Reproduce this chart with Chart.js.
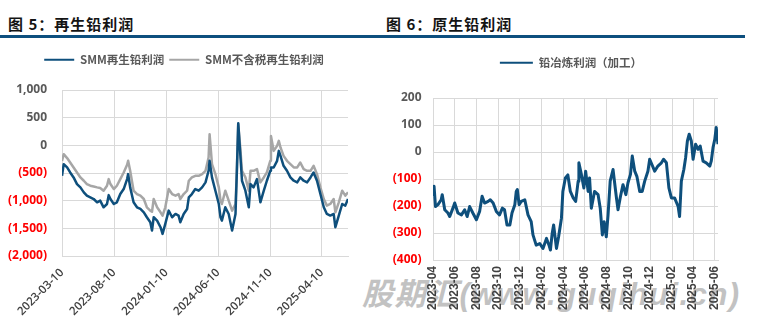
<!DOCTYPE html>
<html>
<head>
<meta charset="utf-8">
<title>再生铅利润 / 原生铅利润</title>
<script src="https://cdn.jsdelivr.net/npm/chart.js@4.4.1/dist/chart.umd.min.js"></script>
<style>
  body { margin: 0; background: #fff; }
  #page { position: relative; width: 763px; height: 327px; overflow: hidden; font-family: "Noto Sans CJK SC", sans-serif; }
  .fig-title { position: absolute; top: 14px; font-size: 15px; font-weight: 700; color: #141414; letter-spacing: 1px; line-height: 20px; white-space: nowrap; }
  .rule { position: absolute; top: 35px; left: 0; width: 745px; height: 3px; background: #0d4f7e; }
  .watermark { position: absolute; left: 362px; top: 280px; font: italic 700 31px "Liberation Sans", "Noto Sans CJK SC", sans-serif; line-height: 30px; color: #c2c2c2; letter-spacing: 1.5px; white-space: nowrap; z-index: 0; }
  .panel { position: absolute; top: 40px; height: 287px; z-index: 1; }
</style>
</head>
<body>
<div id="page">
  <div class="fig-title" style="left: 8px;">图 5：再生铅利润</div>
  <div class="fig-title" style="left: 386px;">图 6：原生铅利润</div>
  <div class="rule"></div>
  <div class="watermark">股期汇(www.guqihui.cn)</div>
  <div class="panel" style="left: 0; width: 380px;"><canvas id="recycled"></canvas></div>
  <div class="panel" style="left: 380px; width: 383px;"><canvas id="primary"></canvas></div>
</div>
<script>
// ---- Recycled lead profit (yuan/t), x = days since 2023-03-10
const recycledStart = '2023-03-10';
const recycledDays = [
  0, 5, 15, 24, 34, 44, 54, 64, 73, 83, 93, 103, 112, 122, 132, 137, 142, 152, 161, 171,
  181, 191, 194, 200, 210, 220, 230, 240, 249, 259, 264, 269, 279, 289, 295, 303, 313, 323, 333, 342,
  347, 357, 367, 372, 381, 391, 401, 411, 421, 430, 433, 440, 450, 460, 465, 469, 479, 489, 499, 509,
  513, 517, 523, 528, 538, 548, 553, 562, 572, 582, 592, 601, 611, 613, 621, 631, 636, 641, 650, 660,
  670, 680, 690, 699, 709, 719, 729, 738, 748, 758, 768, 777, 787, 797, 802, 812, 822, 831, 839
];
const smmProfit = [
  -550, -340, -400, -490, -580, -700, -760, -850, -910, -940, -970, -1030, -1000, -1120, -1060, -900, -970, -1060, -1030, -880,
  -790, -610, -520, -760, -1030, -1120, -1150, -1210, -1300, -1390, -1540, -1300, -1360, -1480, -1600, -1420, -1180, -1300, -1240, -1270,
  -1390, -1240, -1150, -940, -880, -790, -820, -760, -670, -460, -280, -580, -820, -1060, -1300, -1360, -1120, -1240, -1540, -1240,
  -460, 400, -160, -640, -820, -1120, -700, -760, -610, -1030, -820, -640, -460, -400, -400, -280, -100, -190, -370, -460,
  -580, -640, -670, -580, -640, -670, -580, -490, -640, -880, -1120, -1240, -1270, -1240, -1480, -1270, -1060, -1090, -970
];
const smmProfitExTax = [
  -280, -160, -230, -310, -400, -490, -580, -640, -700, -730, -745, -760, -770, -820, -730, -610, -700, -790, -730, -610,
  -490, -350, -280, -460, -820, -880, -910, -970, -1120, -1180, -1200, -970, -1120, -1210, -1270, -1120, -790, -880, -910, -880,
  -970, -880, -820, -640, -580, -550, -550, -520, -460, -220, 200, -340, -520, -760, -1000, -1060, -820, -1000, -1180, -1060,
  -460, 380, -40, -460, -580, -820, -460, -460, -430, -670, -580, -490, -280, 170, -100, -10, 80, -40, -190, -280,
  -340, -400, -400, -310, -430, -460, -460, -370, -520, -760, -970, -1090, -1060, -970, -1210, -1030, -820, -910, -850
];
const recycledTicks = ['2023-03-10', '2023-08-10', '2024-01-10', '2024-06-10', '2024-11-10', '2025-04-10'];
const recycledEnd = 839;

// ---- Primary lead smelting profit (processing), x = days since 2023-04-01
const primaryStart = '2023-04-01';
const primaryDays = [
  0, 3, 7, 14, 23, 26, 33, 42, 47, 56, 61, 70, 80, 89, 96, 103, 112, 122, 131, 138,
  145, 155, 161, 169, 178, 187, 195, 201, 208, 216, 222, 230, 234, 237, 242, 248, 258, 267, 276, 281,
  290, 300, 309, 319, 326, 330, 335, 339, 347, 353, 361, 365, 372, 379, 386, 394, 401, 408, 410, 417,
  424, 429, 436, 440, 445, 454, 464, 470, 476, 481, 487, 492, 498, 506, 515, 520, 527, 534, 542, 548,
  555, 560, 567, 573, 581, 588, 595, 604, 609, 617, 623, 632, 642, 648, 656, 663, 670, 679, 689, 693,
  698, 705, 710, 715, 720, 726, 731, 738, 745, 751, 759, 768, 778, 782, 787, 792, 796, 801
];
const smeltProfit = [
  -164, -127, -202, -195, -177, -158, -214, -226, -239, -208, -189, -226, -233, -214, -239, -202, -226, -251, -220, -164,
  -189, -183, -177, -189, -220, -233, -208, -214, -270, -270, -226, -195, -146, -139, -195, -183, -177, -233, -258, -307,
  -345, -339, -357, -320, -345, -363, -301, -270, -357, -314, -245, -146, -96, -85, -146, -170, -183, -108, -40, -83,
  -133, -71, -146, -96, -208, -146, -158, -208, -307, -258, -314, -233, -108, -65, -164, -214, -164, -121, -158, -114,
  -83, -15, -71, -90, -146, -146, -108, -71, -27, -52, -71, -52, -40, -27, -40, -133, -170, -170, -202, -239,
  -108, -65, -21, 41, 66, 41, -27, 29, 10, 22, -34, -40, -52, -34, 16, 47, 91, 29
];
const primaryTicks = ['2023-04', '2023-06', '2023-08', '2023-10', '2023-12', '2024-02', '2024-04',
  '2024-06', '2024-08', '2024-10', '2024-12', '2025-02', '2025-04', '2025-06'];
const primaryEnd = 801;

const BLUE = '#0e4f7c';
const GREY = '#a6a6a6';
const GRID = '#d9d9d9';

Chart.defaults.font.family = '"Open Sans", "Noto Sans CJK SC", sans-serif';
Chart.defaults.animation = false;

function dayOffset(start, date) {
  const [y0, m0, d0] = start.split('-').map(Number);
  const [y, m, d = 1] = date.split('-').map(Number);
  return Math.round((Date.UTC(y, m - 1, d) - Date.UTC(y0, m0 - 1, d0)) / 86400000);
}

function toPoints(days, values) {
  return days.map((x, i) => ({ x: x, y: values[i] }));
}

// (1,000) style for negatives
function formatProfit(v) {
  const s = Math.abs(v).toLocaleString('en-US');
  return v < 0 ? '(' + s + ')' : s;
}

// extra space under the legend, and a sideways nudge of the legend row
function legendPlacement(gap, shift) {
  return {
    id: 'legendPlacement',
    beforeInit(chart) {
      const fit = chart.legend.fit;
      chart.legend.fit = function () {
        fit.bind(chart.legend)();
        this.height += gap;
      };
    },
    afterLayout(chart) {
      chart.legend.left += shift;
      chart.legend.right += shift;
    }
  };
}

function lineLegendLabels(chart) {
  return Chart.defaults.plugins.legend.labels.generateLabels(chart).map(item => ({
    ...item, lineWidth: 0, fillStyle: item.strokeStyle
  }));
}

function makeChart(id, cfg) {
  return new Chart(document.getElementById(id), {
    type: 'line',
    data: { datasets: cfg.datasets },
    options: {
      responsive: true,
      maintainAspectRatio: false,
      layout: { padding: cfg.padding },
      elements: { point: { radius: 0 }, line: { tension: 0, borderJoinStyle: 'round' } },
      plugins: {
        tooltip: { enabled: false },
        legend: {
          position: 'top',
          labels: {
            boxWidth: cfg.boxWidth,
            boxHeight: 2,
            padding: 5,
            color: '#595959',
            font: { family: '"Noto Sans CJK SC", sans-serif', size: 11.5, weight: 'bold' },
            generateLabels: lineLegendLabels
          }
        }
      },
      scales: {
        x: {
          type: 'linear',
          min: 0,
          max: cfg.xMax,
          afterFit(scale) { scale.height = cfg.xHeight; },
          afterBuildTicks(scale) { scale.ticks = cfg.ticks.map(t => ({ value: dayOffset(cfg.start, t) })); },
          grid: { color: GRID, drawTicks: false },
          border: { color: GRID },
          ticks: {
            autoSkip: false,
            minRotation: cfg.rotation,
            maxRotation: cfg.rotation,
            padding: cfg.xPad,
            color: '#404040',
            font: cfg.xFont,
            callback: (v, i) => cfg.ticks[i]
          }
        },
        y: {
          min: cfg.yMin,
          max: cfg.yMax,
          afterFit(scale) { scale.width = cfg.yWidth; },
          grid: { color: GRID, drawTicks: false },
          border: { color: GRID },
          ticks: {
            stepSize: cfg.yStep,
            padding: cfg.yPad,
            font: { size: 12, weight: 'bold' },
            color: ctx => (ctx.tick && ctx.tick.value < 0 ? '#ff0000' : '#595959'),
            callback: formatProfit
          }
        }
      }
    },
    plugins: [legendPlacement(cfg.gap, cfg.legendShift)]
  });
}

makeChart('recycled', {
  datasets: [
    { label: 'SMM再生铅利润', data: toPoints(recycledDays, smmProfit), borderColor: BLUE, backgroundColor: BLUE, borderWidth: 2.5 },
    { label: 'SMM不含税再生铅利润', data: toPoints(recycledDays, smmProfitExTax), borderColor: GREY, backgroundColor: GREY, borderWidth: 2.5 }
  ],
  padding: { left: 0, right: 32, top: 9, bottom: 0 },
  gap: 14.5,
  legendShift: 10,
  boxWidth: 30,
  start: recycledStart,
  ticks: recycledTicks,
  xMax: recycledEnd,
  xHeight: 71,
  rotation: 45,
  xPad: 10,
  xFont: { size: 11.5, weight: '600' },
  yMin: -2000, yMax: 1000, yStep: 500,
  yWidth: 62,
  yPad: 15
});

makeChart('primary', {
  datasets: [
    { label: '铅冶炼利润（加工）', data: toPoints(primaryDays, smeltProfit), borderColor: BLUE, backgroundColor: BLUE, borderWidth: 3 }
  ],
  padding: { left: 0, right: 45, top: 12, bottom: 0 },
  gap: 19.5,
  legendShift: 22,
  boxWidth: 33,
  start: primaryStart,
  ticks: primaryTicks,
  xMax: primaryEnd,
  xHeight: 67,
  rotation: 90,
  xPad: 6,
  xFont: { family: '"Liberation Sans", sans-serif', size: 12, weight: 'bold' },
  yMin: -400, yMax: 200, yStep: 100,
  yWidth: 53,
  yPad: 11.5
});
</script>
</body>
</html>
